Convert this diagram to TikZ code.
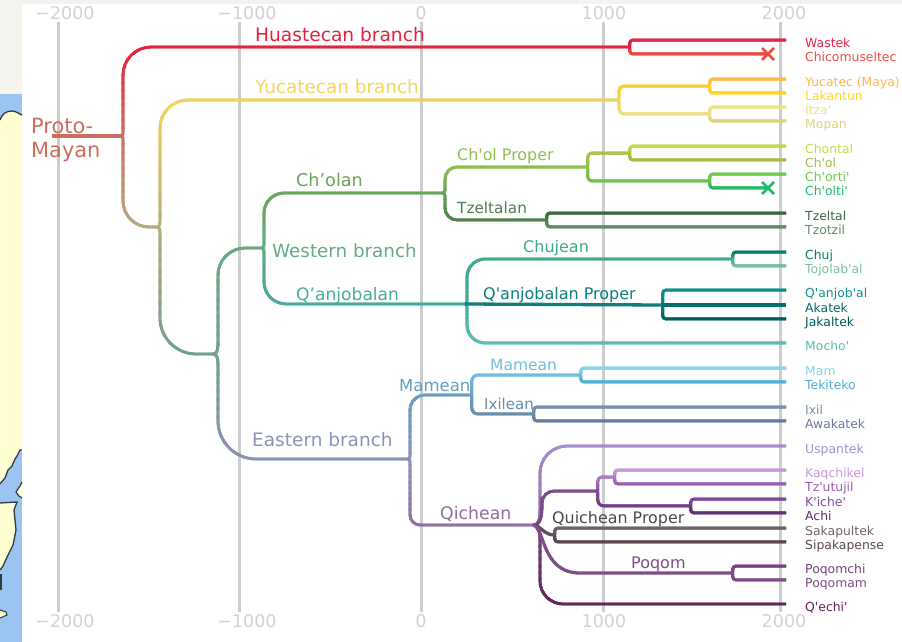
\documentclass[tikz,border=0pt]{standalone}
\usepackage{fontspec}
\usetikzlibrary{calc}
\setmainfont{DejaVu Sans}
\newfontfamily\vera{DejaVu Sans}
\definecolor{pageoff}{HTML}{F4F3EE}
\definecolor{seablue}{HTML}{9CC4F0}
\definecolor{landyel}{HTML}{FFFFD2}
\definecolor{coast}{HTML}{2E3C42}
\definecolor{gridc}{HTML}{CDCDCD}
\definecolor{tickc}{HTML}{D2D2D2}
\definecolor{proto}{HTML}{CB6E60}
\definecolor{huast}{HTML}{E5203F}
\definecolor{yuc}{HTML}{F5D65A}
\definecolor{tan}{HTML}{B3AD80}
\definecolor{sage}{HTML}{729F8E}
\definecolor{west}{HTML}{66AB85}
\definecolor{east}{HTML}{8D93B5}
\definecolor{cholan}{HTML}{6BA45A}
\definecolor{qanj}{HTML}{45AC9E}
\definecolor{cholp}{HTML}{8FC04E}
\definecolor{tzelt}{HTML}{4E7E50}
\definecolor{chuje}{HTML}{3FA98F}
\definecolor{qanjp}{HTML}{0D7F7D}
\definecolor{mamA}{HTML}{659FC0}
\definecolor{mamB}{HTML}{6FC0DE}
\definecolor{ixile}{HTML}{6A8CA8}
\definecolor{qich}{HTML}{8F6E9E}
\definecolor{qichj}{HTML}{6F4A7C}
\definecolor{qp}{HTML}{5F4F5B}
\definecolor{poq}{HTML}{7F4E88}
\definecolor{uppur}{HTML}{7F4C92}
\definecolor{kaqst}{HTML}{B07FC4}
\definecolor{kist}{HTML}{6B3E8A}
\definecolor{wastek}{HTML}{E0284A}
\definecolor{chicom}{HTML}{F04B40}
\definecolor{yucst}{HTML}{FFCB30}
\definecolor{yucat}{HTML}{FFB74D}
\definecolor{lakan}{HTML}{FFD814}
\definecolor{itzst}{HTML}{E8DF80}
\definecolor{itza}{HTML}{EBE38A}
\definecolor{mopan}{HTML}{DDD578}
\definecolor{chost}{HTML}{A9C63E}
\definecolor{chont}{HTML}{C5DC46}
\definecolor{chol}{HTML}{A6BC47}
\definecolor{chrst}{HTML}{6CC150}
\definecolor{chort}{HTML}{6ECB4E}
\definecolor{cholt}{HTML}{1DBB6C}
\definecolor{tzel}{HTML}{3A6645}
\definecolor{tzot}{HTML}{5F8D65}
\definecolor{chuj}{HTML}{00806F}
\definecolor{tojo}{HTML}{7BC0A6}
\definecolor{qanjl}{HTML}{0E8F8F}
\definecolor{akat}{HTML}{006F70}
\definecolor{jaka}{HTML}{005A5A}
\definecolor{mocho}{HTML}{5DBDB2}
\definecolor{mam}{HTML}{8ED3E8}
\definecolor{teki}{HTML}{4AB0D5}
\definecolor{ixil}{HTML}{7890AC}
\definecolor{awak}{HTML}{6D7A9C}
\definecolor{uspa}{HTML}{A48FD0}
\definecolor{kaq}{HTML}{C59AD8}
\definecolor{tzut}{HTML}{9A5DB0}
\definecolor{kich}{HTML}{7F4AA0}
\definecolor{achi}{HTML}{5D3070}
\definecolor{saka}{HTML}{6F6469}
\definecolor{sipa}{HTML}{5A484F}
\definecolor{poch}{HTML}{74437E}
\definecolor{pomm}{HTML}{7F4E85}
\definecolor{qech}{HTML}{66245C}
\definecolor{labdark}{HTML}{4A4A48}
\tikzset{
  tree/.style={line width=2.8pt,line join=round},
  treeplain/.style={line width=3.3pt,line join=round},
  gridline/.style={line width=3pt,gridc},
  ticklbl/.style={anchor=base,inner sep=0pt,text=tickc,font=\vera\fontsize{17.5}{20}\selectfont},
  leaflbl/.style={anchor=base west,inner sep=0pt,font=\vera\fontsize{12.4}{14}\selectfont},
  brlbl/.style={anchor=base west,inner sep=0pt},
  xmark/.style={line width=2.6pt},
}
\newcommand\fs[1]{\vera\fontsize{#1}{#1}\selectfont}
\newdimen\myax \newdimen\myay \newdimen\mybx \newdimen\myby
% colour at junction, colour at child, junction, child, bulge, radius
\newcommand\brpath[2]{%
  (\ax,\ay) .. controls ({\ax+#1pt},\ay) and ({\ax+#1pt},{\ay+\mys*1.2*#1pt}) .. ({\ax+#1pt},{\ay+\mys*3*#1pt})
  -- ({\ax+#1pt},{\by-\mys*#2pt})
  .. controls ({\ax+#1pt},{\by-\mys*0.45*#2pt}) and ({\ax+#1pt+0.45*#2pt},\by) .. ({\ax+#1pt+#2pt},\by)
  -- (\bx,\by)}
\newcommand\brn[6]{%
  \pgfextractx{\myax}{\pgfpointanchor{#3}{center}}%
  \pgfextracty{\myay}{\pgfpointanchor{#3}{center}}%
  \pgfextractx{\mybx}{\pgfpointanchor{#4}{center}}%
  \pgfextracty{\myby}{\pgfpointanchor{#4}{center}}%
  \ifdim\myby>\myay \def\mys{1}\else\def\mys{-1}\fi
  \edef\ax{\the\myax}\edef\ay{\the\myay}\edef\bx{\the\mybx}\edef\by{\the\myby}%
  \draw[tree,color=#2!50!#1] \brpath{#5}{#6};
  \foreach \i in {0,...,11}{%
    \pgfmathsetlengthmacro\slabu{\i==0?(\ay-\mys*10pt):(\ay+(\by-\ay)*\i/12)}%
    \pgfmathsetlengthmacro\slabv{\i==11?(\by+\mys*10pt):(\ay+(\by-\ay)*(\i+1.4)/12)}%
    \pgfmathsetmacro\mix{100*(\i+.5)/12}%
    \begin{scope}
      \clip (-10pt,\slabu) rectangle (950pt,\slabv);
      \draw[tree,color=#2!\mix!#1] \brpath{#5}{#6};
    \end{scope}
  }%
}
\newcommand\fk[4]{\brn{#1}{#2}{#3}{#4}{0.8}{3}}
\newcommand\leaf[4]{%
  \coordinate (#1-e) at (786,#2);
  \node[leaflbl,text=#3] (#1) at (805,#2+7.5) {#4};
}
\begin{document}
\begin{tikzpicture}[x=1pt,y=-1pt]
\useasboundingbox (0,0) rectangle (902,642);
% page and map strip
\fill[white] (0,0) rectangle (902,642);
\fill[pageoff] (0,0) rectangle (902,4);
\fill[pageoff] (0,0) rectangle (22,94);
\fill[seablue] (0,94) rectangle (22,642);
\fill[landyel] (0,120) .. controls (2,114) and (6,111) .. (12,111) .. controls (16,111) and (19,114) .. (22,115) -- (22,450) -- (20,450) -- (17,456) -- (15,459) -- (12,466) -- (8,470) -- (5,478) -- (0,484) -- cycle;
\draw[coast,line width=1.3pt] (0,120) .. controls (2,114) and (6,111) .. (12,111) .. controls (16,111) and (19,114) .. (22,115);
\draw[coast,line width=1.3pt] (22,450) -- (20,450) -- (17,456) -- (15,459) -- (12,466) -- (8,470) -- (5,478) -- (0,484);
\fill[landyel,draw=coast,line width=1.2pt] (22,482) -- (20,486) -- (16,492) -- (19,496) -- (22,498);
\fill[landyel] (0,503) -- (17,502) -- (14,510) -- (16,530) -- (13,545) -- (8,555) -- (3,566) -- (0,570) -- cycle;
\draw[coast,line width=1.3pt] (0,503) -- (17,502) -- (14,510) -- (16,530) -- (13,545) -- (8,555) -- (3,566) -- (0,570);
\fill[landyel,draw=coast,line width=1pt] (0,610) -- (6,612) -- (7,615) -- (0,618);
\draw[coast,line width=1.3pt] (1,574) -- (1,590);
% time axis
\foreach \nm/\gx/\lx/\tx in {a/58/65/−2000,b/239.5/247/−1000,c/421/421/0,d/603/604/1000,e/780/784/2000}{
  \coordinate (grid\nm t) at (\gx,22);
  \coordinate (grid\nm b) at (\gx,612);
  \draw[gridline] (grid\nm t) -- (grid\nm b);
  \node[ticklbl] (tick\nm t) at (\lx,19.5) {\tx};
  \node[ticklbl] (tick\nm b) at (\lx,627) {\tx};
}
% junctions
\coordinate (rootstart) at (52,136);
\coordinate (j0) at (121,136);
\coordinate (huaJ) at (629,47);
\coordinate (j1) at (157,227);
\coordinate (yucJ) at (618,100);
\coordinate (j2) at (213,354);
\coordinate (j3) at (262,248);
\coordinate (j5) at (408,459);
\coordinate (j6) at (443,193);
\coordinate (j7) at (465,304);
\coordinate (j8) at (587,167);
\coordinate (tzJ) at (546,220);
\coordinate (chonJ) at (629,153);
\coordinate (chrJ) at (709,181);
\coordinate (chuJ) at (732,259);
\coordinate (qpJ) at (662,305);
\coordinate (mamJ) at (471,395);
\coordinate (mamL) at (580,375);
\coordinate (ixJ) at (533,414);
\coordinate (qiJ) at (533,525);
\coordinate (kiJ) at (597,491);
\coordinate (kaqJ) at (614,477);
\coordinate (kicJ) at (690,506);
\coordinate (qpbJ) at (554,535);
\coordinate (poqB) at (580,573);
\coordinate (poqJ) at (732,573);
\coordinate (yupJ) at (709,86);
\coordinate (ylowJ) at (709,114);
\coordinate (xchic) at (768,54);
\coordinate (xcholt) at (768,188);
% leaf labels
\leaf{wastekN}{40}{wastek}{Wastek}
\leaf{chicomN}{54}{chicom}{Chicomuseltec}
\leaf{yucatN}{79}{yucat}{Yucatec (Maya)}
\leaf{lakanN}{93}{lakan}{Lakantun}
\leaf{itzaN}{107}{itza}{Itza'}
\leaf{mopanN}{121}{mopan}{Mopan}
\leaf{chontN}{146}{chont}{Chontal}
\leaf{cholN}{160}{chol}{Ch'ol}
\leaf{chortN}{174}{chort}{Ch'orti'}
\leaf{choltN}{188}{cholt}{Ch'olti'}
\leaf{tzelN}{213}{tzel}{Tzeltal}
\leaf{tzotN}{227}{tzot}{Tzotzil}
\leaf{chujN}{252}{chuj}{Chuj}
\leaf{tojoN}{266}{tojo}{Tojolab'al}
\leaf{qanjN}{290}{qanjl}{Q'anjob'al}
\leaf{akatN}{305}{akat}{Akatek}
\leaf{jakaN}{319}{jaka}{Jakaltek}
\leaf{mochoN}{343}{mocho}{Mocho'}
\leaf{mamN}{368}{mam}{Mam}
\leaf{tekiN}{382}{teki}{Tekiteko}
\leaf{ixilN}{407}{ixil}{Ixil}
\leaf{awakN}{421}{awak}{Awakatek}
\leaf{uspaN}{446}{uspa}{Uspantek}
\leaf{kaqN}{470}{kaq}{Kaqchikel}
\leaf{tzutN}{484}{tzut}{Tz'utujil}
\leaf{kichN}{499}{kich}{K'iche'}
\leaf{achiN}{513}{achi}{Achi}
\leaf{sakaN}{528}{saka}{Sakapultek}
\leaf{sipaN}{542}{sipa}{Sipakapense}
\leaf{pochN}{566}{poch}{Poqomchi}
\leaf{pommN}{580}{pomm}{Poqomam}
\leaf{qechN}{604}{qech}{Q'echi'}
% tree
\draw[treeplain,proto] (rootstart) -- (j0);
\brn{proto}{huast}{j0}{huaJ}{2}{28}
\brn{proto}{tan}{j0}{j1}{2}{26}
\brn{tan}{yuc}{j1}{yucJ}{3}{28}
\brn{tan}{sage}{j1}{j2}{3}{36}
\brn{sage}{west}{j2}{j3}{5}{27}
\brn{sage}{east}{j2}{j5}{5}{38}
\brn{west}{cholan}{j3}{j6}{2}{20}
\brn{west}{qanj}{j3}{j7}{2}{22}
\brn{cholan}{cholp}{j6}{j8}{2}{12}
\brn{cholan}{tzelt}{j6}{tzJ}{2}{12}
\brn{cholp}{chost}{j8}{chonJ}{0.8}{4}
\brn{cholp}{chrst}{j8}{chrJ}{0.8}{4}
\brn{qanj}{chuje}{j7}{chuJ}{2}{18}
\brn{qanj}{mocho}{j7}{mochoN-e}{2}{18}
\draw[treeplain,qanjp] (j7) -- (qpJ);
\brn{east}{mamA}{j5}{mamJ}{2}{15}
\brn{east}{qich}{j5}{qiJ}{2}{10}
\brn{mamA}{mamB}{mamJ}{mamL}{0.8}{6}
\brn{mamA}{ixile}{mamJ}{ixJ}{0.8}{6}
% Chicomuseltec etc
\fk{huast}{wastek}{huaJ}{wastekN-e}
\fk{huast}{chicom}{huaJ}{xchic}
\brn{yuc}{yucst}{yucJ}{yupJ}{1}{5}
\brn{yuc}{itzst}{yucJ}{ylowJ}{1}{5}
\fk{yucst}{yucat}{yupJ}{yucatN-e}
\fk{yucst}{lakan}{yupJ}{lakanN-e}
\fk{itzst}{itza}{ylowJ}{itzaN-e}
\fk{itzst}{mopan}{ylowJ}{mopanN-e}
\fk{chost}{chont}{chonJ}{chontN-e}
\fk{chost}{chol}{chonJ}{cholN-e}
\fk{chrst}{chort}{chrJ}{chortN-e}
\fk{chrst}{cholt}{chrJ}{xcholt}
\fk{tzelt}{tzel}{tzJ}{tzelN-e}
\fk{tzelt}{tzot}{tzJ}{tzotN-e}
\fk{chuje}{chuj}{chuJ}{chujN-e}
\fk{chuje}{tojo}{chuJ}{tojoN-e}
\fk{qanjp}{qanjl}{qpJ}{qanjN-e}
\fk{qanjp}{jaka}{qpJ}{jakaN-e}
\draw[treeplain,akat] (qpJ) -- (akatN-e);
\fk{mamB}{mam}{mamL}{mamN-e}
\fk{mamB}{teki}{mamL}{tekiN-e}
\fk{ixile}{ixil}{ixJ}{ixilN-e}
\fk{ixile}{awak}{ixJ}{awakN-e}
% Qichean fan
\brn{qich}{uspa}{qiJ}{uspaN-e}{7}{27}
\brn{qichj}{uppur}{qiJ}{kiJ}{9}{12}
\brn{qichj}{qech}{qiJ}{qechN-e}{7}{23}
\draw[treeplain,qp] (qiJ) .. controls (540,525) and (544,535) .. (qpbJ);
\draw[treeplain,poq] (qiJ) .. controls (545,527) and (541,573) .. (poqB) -- (poqJ);
\brn{uppur}{kaqst}{kiJ}{kaqJ}{0.8}{4}
\brn{uppur}{kist}{kiJ}{kicJ}{0.8}{6}
\fk{kaqst}{kaq}{kaqJ}{kaqN-e}
\fk{kaqst}{tzut}{kaqJ}{tzutN-e}
\fk{kist}{kich}{kicJ}{kichN-e}
\fk{kist}{achi}{kicJ}{achiN-e}
\fk{qp}{saka}{qpbJ}{sakaN-e}
\fk{qp}{sipa}{qpbJ}{sipaN-e}
\fk{poq}{poch}{poqJ}{pochN-e}
\fk{poq}{pomm}{poqJ}{pommN-e}
% extinct marks
\draw[xmark,chicom] ($(xchic)+(-6,-6)$) -- ($(xchic)+(6,6)$);
\draw[xmark,chicom] ($(xchic)+(-6,6)$) -- ($(xchic)+(6,-6)$);
\draw[xmark,cholt] ($(xcholt)+(-6,-6)$) -- ($(xcholt)+(6,6)$);
\draw[xmark,cholt] ($(xcholt)+(-6,6)$) -- ($(xcholt)+(6,-6)$);
% branch labels
\node[brlbl,text=proto] (lproto) at (31,133) {\fs{20.9}Proto-};
\node[brlbl,text=proto] (lmaya) at (31,157) {\fs{20.9}Mayan};
\node[brlbl,text=huast] (lhua) at (255,42) {\fs{18.6}Huastecan branch};
\node[brlbl,text=yuc] (lyuc) at (255,93) {\fs{18.4}Yucatecan branch};
\node[brlbl,text=cholan] (lcho) at (296,186) {\fs{17.6}Ch’olan};
\node[brlbl,text=west] (lwes) at (272,257) {\fs{18.3}Western branch};
\node[brlbl,text=qanj] (lqan) at (296,300) {\fs{17.1}Q’anjobalan};
\node[brlbl,text=cholp] (lcp) at (457,160) {\fs{15.9}Ch'ol Proper};
\node[brlbl,text=tzelt] (ltz) at (457,213) {\fs{15.3}Tzeltalan};
\node[brlbl,text=chuje] (lchu) at (523,252) {\fs{16}Chujean};
\node[brlbl,text=qanjp] (lqp) at (483,299) {\fs{16}Q'anjobalan Proper};
\node[brlbl,text=mamB] (lmb) at (490,370) {\fs{15.5}Mamean};
\node[brlbl,text=mamA] (lma) at (399,391) {\fs{16.5}Mamean};
\node[brlbl,text=ixile] (lix) at (484,409) {\fs{15}Ixilean};
\node[brlbl,text=east] (leas) at (252,446) {\fs{18.5}Eastern branch};
\node[brlbl,text=qich] (lqi) at (440,519) {\fs{17.3}Qichean};
\node[brlbl,text=labdark] (lqpb) at (552,523) {\fs{15.9}Quichean Proper};
\node[brlbl,text=poq] (lpo) at (631,568) {\fs{16}Poqom};
\end{tikzpicture}
\end{document}
